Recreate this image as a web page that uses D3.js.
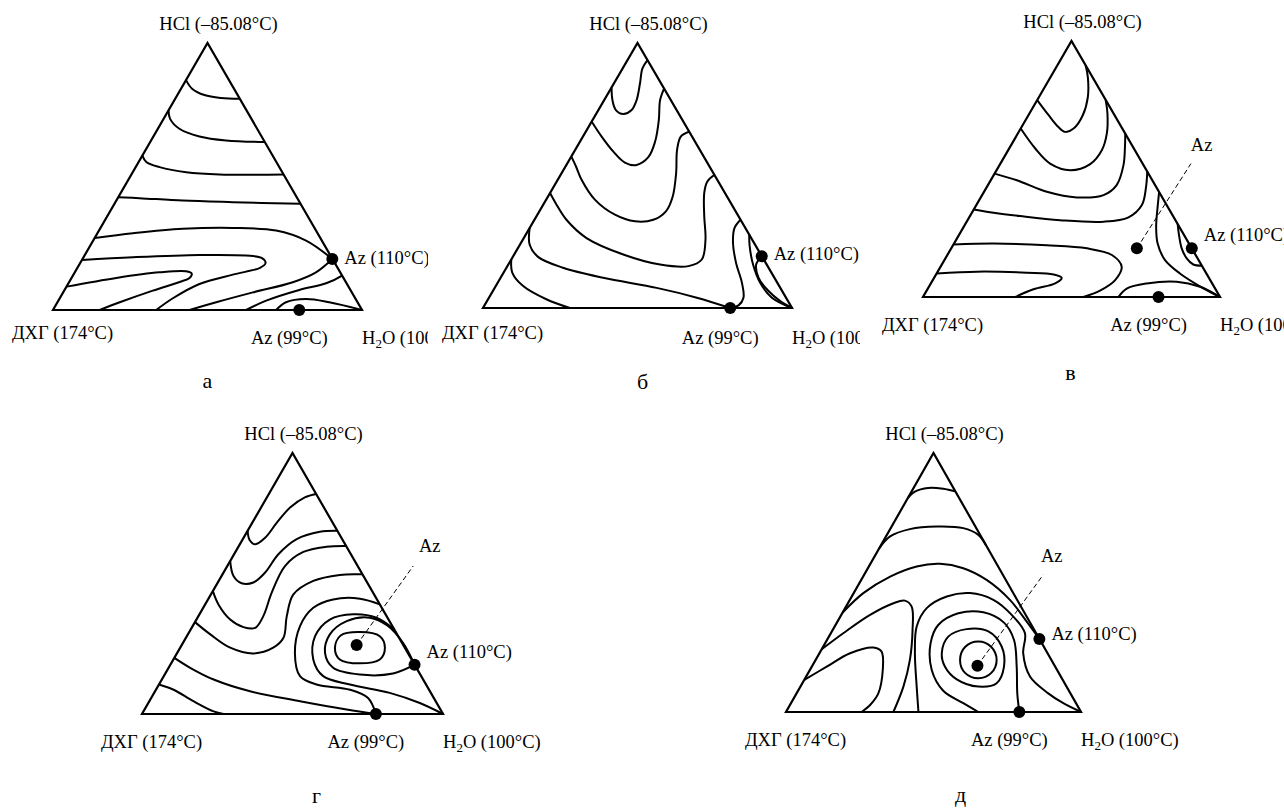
<!DOCTYPE html>
<html>
<head>
<meta charset="utf-8">
<script src="https://cdn.jsdelivr.net/npm/d3@7"></script>
<style>
	body { margin: 0; background: #fff; }
	svg text { font-family: "Liberation Serif", "Times New Roman", serif; font-size: 18.5px; fill: #000; }
</style>
</head>
<body>
<svg id="chart" width="1284" height="809"></svg>
<script>
// --- data: every point is [u, v] in % of the triangle (u along the base from ДХГ, v height toward HCl)

var panelLetters = ["а", "б", "в", "г", "д"];
var vertexNames = ["HCl (–85.08°C)", "ДХГ (174°C)", "H₂O (100°C)"];
var azNames = ["Az (99°C)", "Az (110°C)", "Az"];

var curvesA = [
	[[43.1,86.0],[45.0,82.9],[49.0,80.5],[54.4,79.4],[60.4,79.1]],
	[[37.4,74.75],[37.9,71.6],[40.9,67.9],[47.4,65.0],[56.0,63.5],[68.6,62.9]],
	[[28.9,57.9],[30.2,55.4],[34.5,53.5],[43.1,51.6],[53.9,50.75],[74.6,50.75]],
	[[21.1,42.25],[28.0,41.9],[42.0,41.0],[58.2,40.4],[80.1,39.75]],
	[[13.5,27.0],[25.9,28.75],[42.0,30.4],[58.2,30.75],[72.2,29.75],[81.9,26.0],[90.4,19.1]],
	[[9.4,18.75],[25.9,19.75],[47.4,20.6],[62.5,20.4],[67.5,19.5],[68.8,17.6],[67.0,15.8],[58.2,13.25],[47.4,9.75],[38.8,4.4],[33.4,0]],
	[[4.4,8.75],[20.5,12.0],[34.5,14.1],[43.1,14.5],[44.9,13.6],[44.2,12.0],[41.0,10.5],[32.3,7.25],[21.6,2.9],[15.1,0]],
	[[44.2,0],[52.8,2.9],[64.7,6.6],[77.6,10.4],[85.1,14.1],[90.4,19.1]],
	[[62.5,0],[69.0,3.5],[79.7,7.5],[88.4,10.0],[93.55,12.9]],
	[[72.2,0],[75.4,2.9],[81.9,4.1],[89.4,2.9],[100,0]]
];

var curvesB = [
	[[53.25,93.5],[51.6,90.4],[50.8,84.7],[49.7,78.4],[48.1,74.7],[45.4,73.2],[43.0,74.7],[41.9,78.4],[41.6,83.2]],
	[[58.6,82.8],[57.3,78.4],[56.9,70.9],[55.7,62.8],[53.5,56.9],[49.7,54.0],[45.9,54.9],[42.2,59.0],[38.4,64.7],[35.2,70.3]],
	[[66.7,66.5],[64.0,64.7],[62.8,59.6],[62.5,50.9],[61.4,42.1],[59.2,36.5],[55.1,33.3],[49.2,32.7],[42.7,35.2],[36.2,40.9],[31.9,48.4],[30.1,53.4],[28.6,57.1]],
	[[74.9,50.3],[72.6,47.7],[71.6,43.4],[71.6,34.6],[72.0,25.8],[70.8,18.3],[66.5,15.8],[57.3,16.4],[45.4,20.2],[33.5,26.4],[27.0,33.3],[23.8,39.0],[21.7,43.4]],
	[[15.1,30.2],[15.1,23.9],[17.8,19.3],[25.9,15.2],[38.9,11.4],[56.2,7.6],[69.2,3.9],[80.0,0]],
	[[9.15,18.3],[9.5,13.3],[13.0,8.3],[20.5,3.3],[28.1,0]],
	[[83.35,33.3],[81.4,30.2],[80.9,24.6],[81.9,17.0],[83.8,9.5],[84.3,3.9],[82.7,1.0],[80.4,0]],
	[[86.15,27.7],[86.3,23.3],[87.4,16.4],[89.7,9.5],[93.5,3.9],[100,0]],
	[[90.2,19.5],[88.4,16.4],[89.2,11.4],[92.4,6.4],[96.2,2.6],[100,0]]
];

var curvesV = [
	[[54.75,90.5],[55.5,85.9],[55.5,78.1],[53.8,71.0],[50.7,65.8],[47.9,64.5],[45.6,66.4],[42.3,71.0],[38.45,76.9]],
	[[61.5,76.9],[62.1,71.7],[61.9,63.9],[60.2,57.3],[56.3,51.9],[49.6,49.5],[42.8,52.1],[37.8,58.0],[32.9,65.8]],
	[[68.1,63.8],[68.0,58.6],[67.5,51.5],[65.2,43.7],[60.8,39.8],[51.8,38.9],[41.7,41.1],[31.6,45.6],[24.1,48.2]],
	[[75.5,48.9],[75.1,43.0],[73.7,35.9],[69.2,31.1],[60.8,29.4],[46.2,30.0],[32.7,31.6],[23.8,32.9],[17.1,34.2]],
	[[10.3,20.5],[23.8,20.9],[41.7,20.2],[55.2,19.0],[63.6,16.4],[66.9,11.8],[64.7,6.6],[59.6,2.5],[54.0,0]],
	[[4.6,9.2],[18.2,9.9],[35.0,9.5],[44.0,8.8],[46.7,7.5],[44.5,5.3],[37.2,3.0],[31.1,0]],
	[[65.8,0],[68.6,3.3],[75.3,5.3],[85.4,6.0],[93.3,4.0],[100,0]],
	[[79.5,41.0],[79.0,35.2],[78.5,27.4],[79.0,20.9],[81.5,14.4],[86.5,9.2],[94.4,3.4],[100,0]],
	[[85.75,28.5],[86.2,24.2],[87.1,19.0],[88.8,15.1],[91.0,12.7],[93.9,12.2]]
];

var curvesG = [
	[[57.9,84.3],[54.1,83.0],[49.2,79.1],[44.8,73.3],[40.9,67.5],[37.6,65.0],[35.7,66.8],[35.1,70.2]],
	[[64.9,70.2],[59.1,69.8],[51.4,67.0],[45.3,61.2],[40.9,54.2],[37.0,50.4],[33.1,50.1],[30.4,52.9],[29.3,58.6]],
	[[67.8,64.4],[61.3,64.1],[53.6,62.1],[47.5,56.7],[43.1,46.5],[40.3,37.5],[37.6,33.0],[33.7,33.3],[29.3,36.2],[25.4,42.0],[23.55,47.1]],
	[[73.2,53.5],[65.7,53.3],[56.9,51.0],[50.3,45.8],[48.1,37.5],[47.0,29.2],[43.6,25.4],[37.0,23.2],[29.3,25.4],[22.7,30.5],[17.6,35.2]],
	[[10.75,21.5],[16.0,17.7],[23.8,13.2],[35.9,8.7],[52.5,4.9],[68.0,1.7],[77.7,0]],
	[[5.65,11.3],[10.5,9.3],[17.1,4.9],[23.8,1.0],[27.1,0]],
	[[79.0,42.0],[72.4,44.2],[63.5,43.9],[56.9,40.7],[52.5,33.7],[50.8,23.4],[52.5,14.5],[58.0,11.3],[69.1,9.3],[75.1,6.1],[77.7,0]],
	[[83.8,32.4],[77.9,36.9],[70.2,38.2],[62.4,36.2],[57.5,29.8],[56.9,20.9],[60.2,14.5],[69.1,11.3],[82.3,8.1],[92.3,4.2],[100,0]],
	[[90.55,18.9],[83.4,15.5],[72.4,15.1],[63.5,17.7],[60.8,23.4],[62.4,30.5],[68.0,35.6],[75.7,36.9],[81.5,33.9],[86.7,27.3],[90.55,18.9]]
];
var loopsG = [
	[[64.1,25.4],[66.0,30.1],[72.4,31.4],[79.0,29.8],[80.7,25.4],[79.0,20.9],[72.4,19.4],[65.7,20.9]]
];

var curvesD = [
	[[41.3,82.6],[43.7,85.1],[48.2,86.5],[53.3,86.2],[57.4,85.2]],
	[[31.65,63.3],[35.3,67.8],[42.0,70.6],[51.1,71.6],[60.1,71.0],[65.2,68.4],[67.7,64.6]],
	[[19.2,38.4],[26.2,45.9],[35.3,52.3],[44.3,56.2],[52.2,57.2],[60.1,55.5],[68.0,51.0],[75.9,43.3],[81.6,34.9],[85.9,28.2]],
	[[12.1,24.2],[19.4,30.4],[28.5,37.5],[36.4,42.0],[40.3,43.0],[42.6,40.7],[42.9,31.7],[42.0,20.1],[39.8,9.8],[36.4,0]],
	[[6.2,12.4],[13.8,17.5],[21.7,22.7],[29.6,24.9],[32.4,23.3],[32.8,16.2],[31.3,7.2],[28.5,2.7],[25.6,0]],
	[[44.9,0],[44.3,9.8],[43.7,22.7],[44.3,33.0],[47.7,40.1],[54.5,44.6],[62.4,45.9],[70.3,43.3],[76.5,37.5],[81.0,30.4],[80.4,22.7],[82.7,13.7],[88.9,7.2],[94.0,3.4],[100,0]],
	[[65.2,0],[60.1,3.4],[53.3,8.2],[49.4,16.2],[49.0,26.5],[51.6,33.6],[58.4,38.1],[66.9,38.5],[73.9,34.5],[77.3,27.8],[78.2,17.5],[78.4,7.2],[79.1,0]]
];
var loopsD = [
	[[52.8,22.7],[55.0,29.1],[61.2,32.0],[68.6,31.1],[73.1,25.3],[73.9,17.5],[71.4,11.1],[65.2,9.8],[57.9,12.6],[53.9,17.5]],
	[[59.0,20.1],[60.7,25.1],[65.2,27.2],[69.6,25.1],[71.4,20.1],[69.6,15.1],[65.2,13.0],[60.7,15.1]]
];

var curves = [curvesA, curvesB, curvesV, curvesG, curvesD];
var loops = [[], [], [], loopsG, loopsD];

// azeotropes per panel
var az99 = [[79.7,0], [80.0,0], [79.3,0], [77.7,0], [79.1,0]];
var az110 = [[90.4,19.1], [90.2,19.5], [90.5,19.0], [90.55,18.9], [85.9,28.2]];
var azInner = [null, null, [72.0,19.0], [71.3,26.4], [64.9,17.9]];
var azLeaderEnd = [null, null, [90.2,52.1], [90.1,56.7], [87.2,53.0]];
var azTagAt = [null, null, [93.8,59.3], [95.6,64.4], [90.1,60.1]];

// --- layout (pixels) for each of the five panels
var frames = [
	{left: 53,  right: 362,  base: 310, top: 43,  clip: 428,  dyL: 29, dyR: 34, dy110: 5,  letDx: 0,  letDy: 78},
	{left: 483, right: 792,  base: 308, top: 43,  clip: 860,  dyL: 31, dyR: 36, dy110: 4,  letDx: 5,  letDy: 81},
	{left: 923, right: 1220, base: 297, top: 41,  clip: 1284, dyL: 34, dyR: 34, dy110: -7, letDx: -1, letDy: 83},
	{left: 142, right: 443,  base: 714, top: 453, clip: 1284, dyL: 34, dyR: 34, dy110: -7, letDx: 24, letDy: 89},
	{left: 786, right: 1081, base: 712, top: 453, clip: 1284, dyL: 34, dyR: 34, dy110: 1,  letDx: 27, letDy: 90}
];

var svg = d3.select("#chart");
var dotRadius = 6;

frames.forEach(function(f, i) {
	var x = d3.scaleLinear().domain([0, 100]).range([f.left, f.right]);
	var y = d3.scaleLinear().domain([0, 100]).range([f.base, f.top]);
	var apexX = x(50);

	// clip each panel where the original picture was cut
	svg.append("clipPath").attr("id", "clip" + i)
	  .append("rect")
		.attr("x", f.left - 60).attr("y", f.top - 45)
		.attr("width", f.clip - (f.left - 60)).attr("height", 420);

	var g = svg.append("g").attr("clip-path", "url(#clip" + i + ")");

	var line = d3.line()
		.x(function(d) { return x(d[0]); })
		.y(function(d) { return y(d[1]); })
		.curve(d3.curveCatmullRom.alpha(0.5));

	var loopLine = d3.line()
		.x(function(d) { return x(d[0]); })
		.y(function(d) { return y(d[1]); })
		.curve(d3.curveCatmullRomClosed.alpha(0.5));

	// triangle
	g.append("path")
		.datum([[0, 0], [100, 0], [50, 100]])
		.attr("d", d3.line().x(function(d) { return x(d[0]); }).y(function(d) { return y(d[1]); }).curve(d3.curveLinearClosed))
		.attr("fill", "none").attr("stroke", "#000").attr("stroke-width", 2.2)
		.attr("stroke-linejoin", "miter");

	// isotherms
	g.selectAll(".iso").data(curves[i]).join("path")
		.attr("class", "iso")
		.attr("d", line)
		.attr("fill", "none").attr("stroke", "#000").attr("stroke-width", 2);

	g.selectAll(".loop").data(loops[i]).join("path")
		.attr("class", "loop")
		.attr("d", loopLine)
		.attr("fill", "none").attr("stroke", "#000").attr("stroke-width", 2);

	// ternary azeotrope leader
	if (azInner[i]) {
		g.append("line")
			.attr("x1", x(azInner[i][0])).attr("y1", y(azInner[i][1]))
			.attr("x2", x(azLeaderEnd[i][0])).attr("y2", y(azLeaderEnd[i][1]))
			.attr("stroke", "#000").attr("stroke-width", 1).attr("stroke-dasharray", "5,3");
		g.append("text")
			.attr("x", x(azTagAt[i][0])).attr("y", y(azTagAt[i][1]) + 6)
			.attr("text-anchor", "middle")
			.text(azNames[2]);
	}

	// azeotrope dots
	var dots = [az99[i], az110[i]];
	if (azInner[i]) dots.push(azInner[i]);
	g.selectAll(".dot").data(dots).join("circle")
		.attr("class", "dot")
		.attr("cx", function(d) { return x(d[0]); })
		.attr("cy", function(d) { return y(d[1]); })
		.attr("r", dotRadius)
		.attr("fill", "#000");

	// vertex labels
	g.append("text")
		.attr("x", apexX + 11).attr("y", f.top - 13)
		.attr("text-anchor", "middle")
		.text(vertexNames[0]);

	g.append("text")
		.attr("x", f.left - 41).attr("y", f.base + f.dyL)
		.text(vertexNames[1]);

	var parts = vertexNames[2].split("₂");
	var h2o = g.append("text")
		.attr("x", f.right).attr("y", f.base + f.dyR);
	h2o.append("tspan").text(parts[0]);
	h2o.append("tspan").attr("dy", 4).style("font-size", "13px").text("2");
	h2o.append("tspan").attr("dy", -4).text(parts[1]);

	g.append("text")
		.attr("x", x(az99[i][0]) - 10).attr("y", f.base + f.dyR)
		.attr("text-anchor", "middle")
		.text(azNames[0]);

	g.append("text")
		.attr("x", x(az110[i][0]) + 12).attr("y", y(az110[i][1]) + f.dy110)
		.text(azNames[1]);

	// panel letter
	svg.append("text")
		.attr("x", apexX + f.letDx).attr("y", f.base + f.letDy)
		.attr("text-anchor", "middle")
		.style("font-size", "22px")
		.text(panelLetters[i]);
});
</script>
</body>
</html>
